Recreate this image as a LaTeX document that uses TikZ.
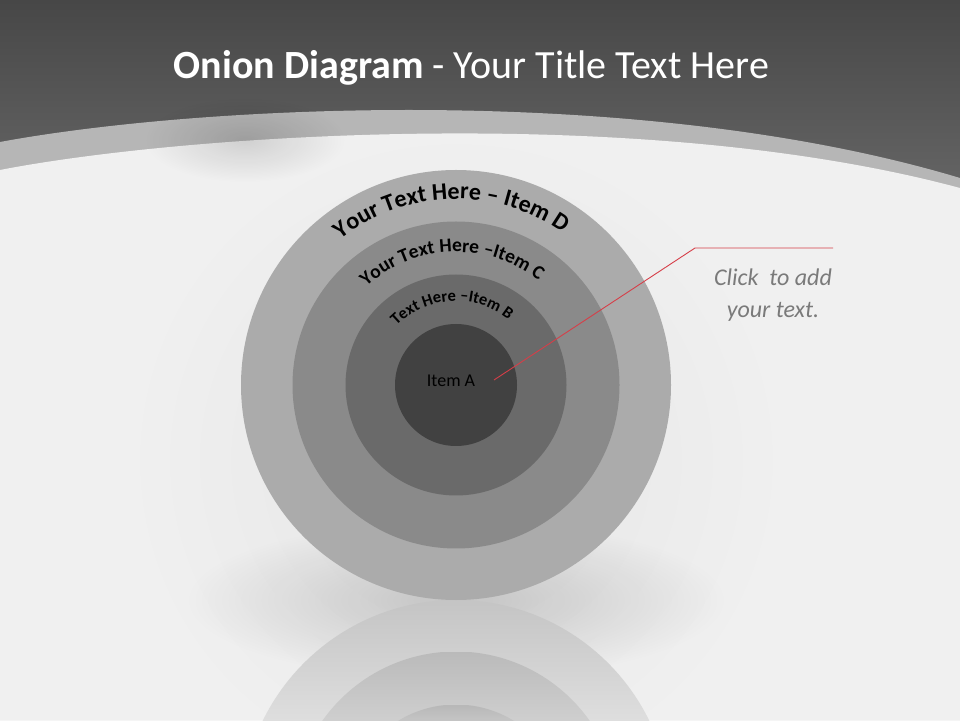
\documentclass[tikz,border=0pt]{standalone}
\usepackage{fontspec}
\setmainfont{Carlito}
\usetikzlibrary{decorations.text,fadings}
\definecolor{bgc}{HTML}{F0F0F0}
\definecolor{hdrtop}{HTML}{474747}
\definecolor{hdrbot}{HTML}{666666}
\definecolor{bandc}{HTML}{B6B6B6}
\definecolor{cD}{HTML}{ABABAB}
\definecolor{cC}{HTML}{8A8A8A}
\definecolor{cB}{HTML}{6A6A6A}
\definecolor{cA}{HTML}{414141}
\definecolor{txtgray}{HTML}{7A7A7A}
\definecolor{redc}{RGB}{214,62,72}
\tikzfading[name=softfade, inner color=transparent!0, outer color=transparent!100]
\tikzset{
  ring/.style={circle, inner sep=0pt, draw=none},
  arctext/.style={decorate, decoration={text along path, text align=center, text={#1}}},
  callout/.style={draw=redc, line width=0.9pt},
  softshadow/.style={fill=black, opacity=#1, path fading=softfade}
}
\begin{document}
\begin{tikzpicture}[x=1pt,y=1pt]
\useasboundingbox (0,0) rectangle (960,720);
% background
\fill[bgc] (0,0) rectangle (960,720);
% header
\shade[top color=hdrtop, bottom color=hdrbot] (0,720) rectangle (960,520);
\fill[bandc] (0,578) .. controls (200,615) and (640,638) .. (960,542) -- (960,0) -- (0,0) -- cycle;
\fill[bgc] (0,550) .. controls (180,585) and (640,618) .. (960,532) -- (960,0) -- (0,0) -- cycle;
% soft shadows
\begin{scope}
\fill[softshadow=0.13] (245,580) ellipse [x radius=100, y radius=42];
\fill[softshadow=0.045] (456,260) ellipse [x radius=330, y radius=330];
\fill[softshadow=0.16] (456,120) ellipse [x radius=270, y radius=80];
\end{scope}
% reflection
\begin{scope}
  \clip (456,-95) circle (215);
  \shade[top color=black!23, bottom color=black!13] (230,120) rectangle (690,0);
\end{scope}
\begin{scope}
  \clip (456,-95) circle (163.5);
  \shade[top color=black!27, bottom color=black!19] (280,68) rectangle (640,0);
\end{scope}
\begin{scope}
  \clip (456,-95) circle (110.5);
  \shade[top color=black!28, bottom color=black!23] (340,15) rectangle (580,0);
\end{scope}
% onion rings
\node[ring, fill=cD, minimum size=430pt] (D) at (456,335) {};
\node[ring, fill=cC, minimum size=327pt] (C) at (456,335) {};
\node[ring, fill=cB, minimum size=221pt] (B) at (456,335) {};
\node[ring, fill=cA, minimum size=122pt] (A) at (456,335) {};
\node[text=black, font=\fontsize{18}{18}\selectfont] (la) at (451,339) {Item A};
% curved labels
\path[arctext={|\fontsize{24}{24}\selectfont\bfseries|Your Text Here – Item D}] (D.center) ++(176.6:186) arc[start angle=176.6, end angle=6.6, radius=186];
\path[arctext={|\fontsize{19.5}{20}\selectfont\bfseries|Your Text Here –Item C}] (D.center) ++(177:133) arc[start angle=177, end angle=7, radius=133];
\path[arctext={|\fontsize{16.5}{17}\selectfont\bfseries|Text Here –Item B}] (D.center) ++(178.2:84) arc[start angle=178.2, end angle=8.2, radius=84];
% title
\node[anchor=base, text=white, font=\fontsize{40}{40}\selectfont] (title) at (471.5,641) {\textbf{Onion Diagram} - Your Title Text Here};
% callout
\coordinate (p0) at (494,340);
\coordinate (p1) at (695,472);
\coordinate (p2) at (833,472);
\draw[callout] (p0) -- (p1) -- (p2);
\node[anchor=base, text=txtgray, font=\fontsize{24}{24}\selectfont\itshape] (t1) at (773,434) {Click\ \ to add};
\node[anchor=base, text=txtgray, font=\fontsize{24}{24}\selectfont\itshape] (t2) at (773,402) {your text.};
\end{tikzpicture}
\end{document}
